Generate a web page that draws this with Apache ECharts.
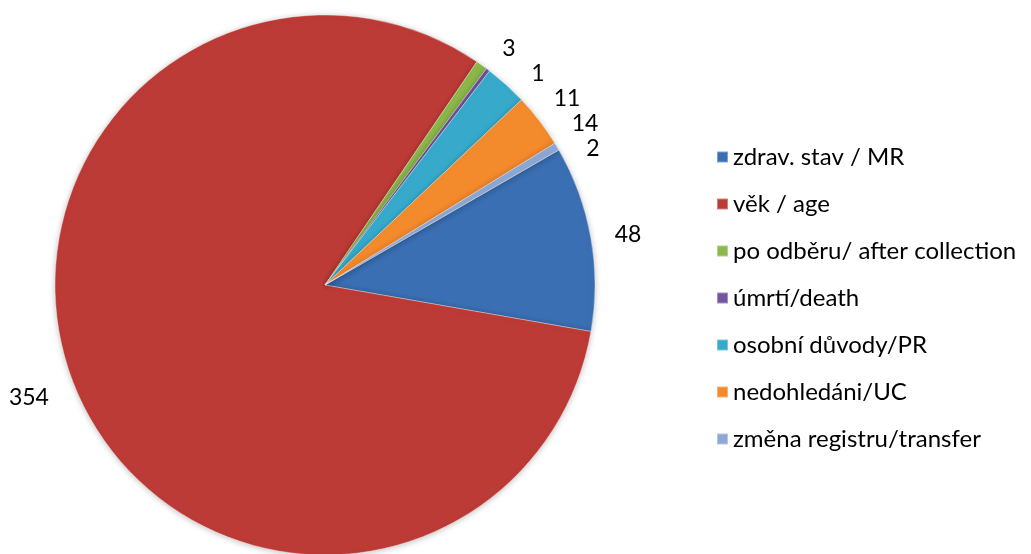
<!DOCTYPE html>
<html>
<head>
<meta charset="utf-8">
<title>Pie</title>
<script src="https://cdn.jsdelivr.net/npm/echarts@6/dist/echarts.min.js"></script>
<style>
  html, body { margin: 0; padding: 0; background: #fff; }
  #chart { width: 1031px; height: 554px; }
</style>
</head>
<body>
<div id="chart"></div>
<script>
// kategorie a hodnoty
var categories = ['zdrav. stav / MR', 'věk / age', 'po odběru/ after collection', 'úmrtí/death', 'osobní důvody/PR', 'nedohledáni/UC', 'změna registru/transfer']
var values = [48, 354, 3, 1, 11, 14, 2]
var colors = ['#3b6fb3', '#bd3b37', '#8db84a', '#7454a0', '#37aacb', '#f38a2c', '#8ea8d6']

var chart = echarts.init(document.getElementById('chart'))

var pieData = categories.map(function(name, i) {
  return { name: name, value: values[i] }
})

chart.setOption({
  color: colors,
  textStyle: { fontFamily: 'Lato, "Noto Sans", sans-serif' },
  legend: {
    orient: 'vertical',
    left: 711,
    top: 140,
    icon: 'rect',
    itemWidth: 11,
    itemHeight: 11,
    itemGap: 23,
    textStyle: {
      fontSize: 24,
      lineHeight: 24,
      color: '#000'
    },
    data: categories
  },
  series: [{
    type: 'pie',
    center: [325, 285],
    radius: 270,
    startAngle: 30,
    clockwise: true,
    avoidLabelOverlap: true,
    itemStyle: {
      borderColor: 'rgba(255,255,255,0.35)',
      borderWidth: 1,
      shadowBlur: 6,
      shadowColor: 'rgba(0,0,0,0.25)',
      shadowOffsetY: 1
    },
    label: {
      show: true,
      position: 'outside',
      formatter: '{c}',
      fontSize: 23,
      color: '#000',
      overflow: 'none',
      edgeDistance: 0
    },
    labelLine: {
      show: false,
      length: 20,
      length2: 4
    },
    emphasis: { scale: false },
    data: pieData
  }]
})
</script>
</body>
</html>
